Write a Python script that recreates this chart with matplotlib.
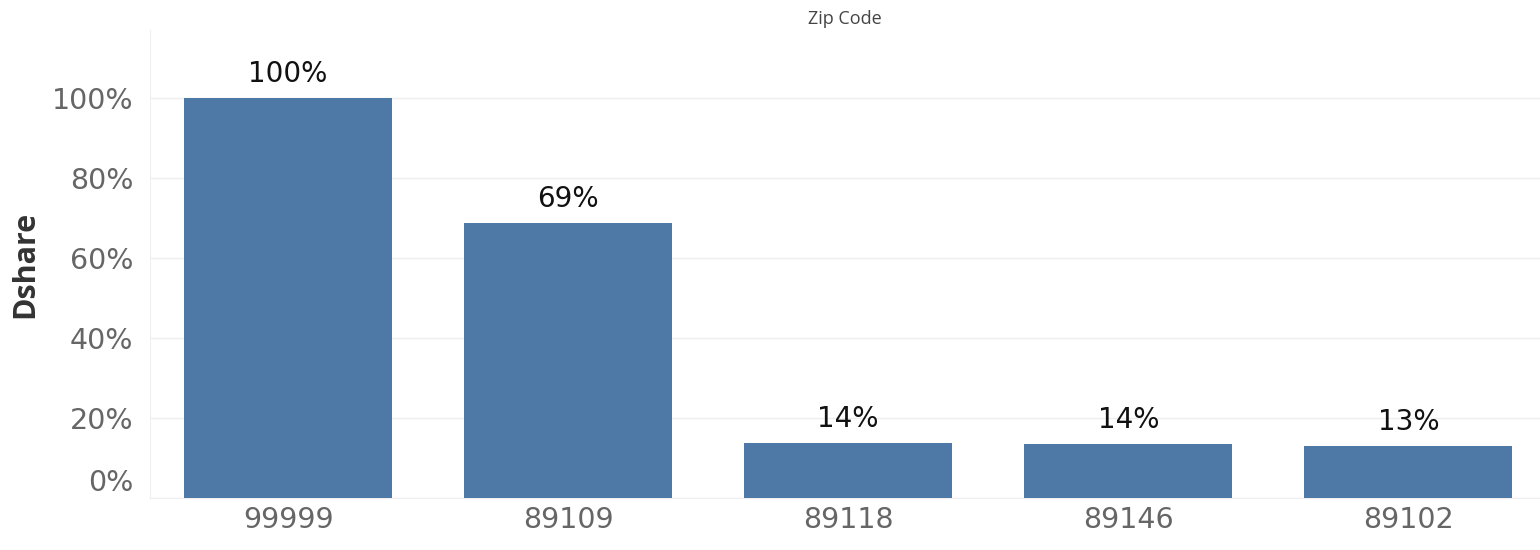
import matplotlib.pyplot as plt
import matplotlib.transforms as mtransforms
from matplotlib.ticker import FuncFormatter

# share per zip code
zip_codes = ['99999', '89109', '89118', '89146', '89102']
dshare = [1.00, 0.688, 0.137, 0.136, 0.13]
y_ticks = [0, 0.2, 0.4, 0.6, 0.8, 1.0]

bar_color = '#4e78a6'
grid_color = '#efefef'

fig = plt.figure(figsize=(15.4, 5.5), dpi=100)
ax = fig.add_axes([0.0974, 0.0945, 0.9026, 0.851])

x = range(len(zip_codes))
ax.bar(x, dshare, width=0.743, color=bar_color, zorder=3)

for xi, v in zip(x, dshare):
    ax.annotate(f'{v:.0%}', (xi, v), xytext=(0, 7), textcoords='offset points',
                ha='center', va='bottom', fontsize=20, color='#111111',
                family='DejaVu Sans')

ax.set_xlim(-0.493, 4.47)
ax.set_ylim(0, 1.17)
ax.set_yticks(y_ticks)
ax.yaxis.set_major_formatter(FuncFormatter(lambda v, p: f'{v:.0%}'))
ax.set_xticks(list(x))
ax.set_xticklabels(zip_codes)

ax.tick_params(axis='both', length=0, labelsize=20.5, labelcolor='#666666')
ax.tick_params(axis='y', pad=12)
ax.tick_params(axis='x', pad=6)
for lab in ax.get_xticklabels() + ax.get_yticklabels():
    lab.set_family('DejaVu Sans')

# lift the 0% label off the baseline
zero_lab = ax.get_yticklabels()[0]
zero_lab.set_transform(zero_lab.get_transform() +
                       mtransforms.ScaledTranslation(0, 18 / 100, fig.dpi_scale_trans))

ax.grid(axis='y', color=grid_color, linewidth=1, zorder=0)
for side in ['top', 'right']:
    ax.spines[side].set_visible(False)
ax.spines['left'].set_color(grid_color)
ax.spines['bottom'].set_color(grid_color)

ax.set_ylabel('Dshare', fontsize=22, fontweight='bold', color='#333333',
              family='Open Sans')
ax.yaxis.set_label_coords(-0.079, 0.5)

fig.text(0.5486, 0.965, 'Zip Code', ha='center', va='center', fontsize=13,
         color='#444444', family='Open Sans')

fig.savefig('out.png', dpi=100)
